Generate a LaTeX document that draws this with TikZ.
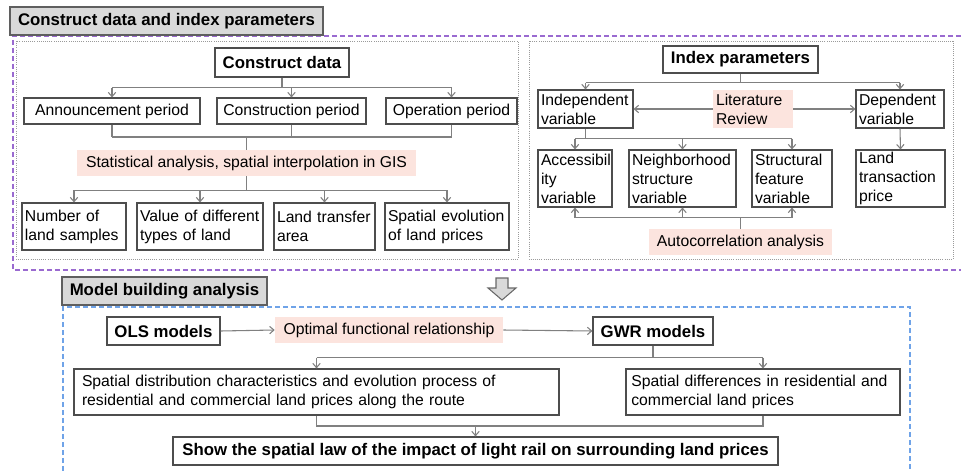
\documentclass[tikz,border=0pt]{standalone}
\usepackage{fontspec}
\setmainfont{Liberation Sans}
\usetikzlibrary{arrows.meta}
\definecolor{boxline}{HTML}{4D4D4D}
\definecolor{linkline}{HTML}{808080}
\definecolor{pinkfill}{HTML}{FCE4DE}
\definecolor{tabfill}{HTML}{D9D9D9}
\definecolor{purpledash}{HTML}{9A6AD0}
\definecolor{bluedash}{HTML}{6FA3E8}
\definecolor{framegray}{HTML}{9A9A9A}
\tikzset{
  txt/.style={font=\fontsize{11.8}{14.2}\selectfont},
  boldtxt/.style={font=\fontsize{12.6}{14.5}\selectfont\bfseries},
  box/.style={draw=boxline, line width=0.8pt, fill=white, txt, inner sep=0pt},
  sz/.style 2 args={minimum width=#1*0.75pt, minimum height=#2*0.75pt},
  lbox/.style={box, align=left, text width=#1, inner xsep=2.25pt},
  titlebox/.style={box, boldtxt},
  note/.style={fill=pinkfill, txt, inner sep=0pt},
  tab/.style={draw=boxline!90, fill=tabfill, line width=0.9pt, boldtxt, inner sep=0pt},
  link/.style={draw=linkline, line width=0.8pt},
  arr/.style={link, -{Straight Barb[length=3.2pt, width=5.5pt]}},
  frame/.style={draw=framegray, line width=0.6pt, densely dotted},
}
\begin{document}
\begin{tikzpicture}[x=0.75pt, y=-0.75pt]
\path[use as bounding box] (0,0) rectangle (961,471);

% ---------- outer dashed groups ----------
\draw[purpledash, line width=1.1pt, dash pattern=on 3.6pt off 2.4pt]
  (961,36) -- (13,36) -- (13,270) -- (961,270);
\draw[bluedash, line width=1.1pt, dash pattern=on 3.6pt off 2.4pt]
  (63,471) -- (63,307) -- (910,307) -- (910,471);

% ---------- inner frames ----------
\draw[frame] (16,41) rectangle (518,259);
\draw[frame] (529,41) rectangle (953,259);

% ---------- section tabs ----------
\node[tab, sz={313}{28}] (tabA) at (166.5,21) {Construct data and index parameters};
\node[tab, sz={205}{28}] (tabB) at (164.5,291) {Model building analysis};

% ---------- construct data ----------
\node[titlebox, sz={134}{29}] (cdata) at (282,62.5) {Construct data};
\node[box, sz={176}{26}] (ann)  at (112,111)   {Announcement period};
\node[box, sz={149}{26}] (cons) at (291.5,111) {Construction period};
\node[box, sz={131}{26}] (oper) at (451.5,111) {Operation period};
\node[note, sz={339}{26}] (stat) at (246.5,163) {Statistical analysis, spatial interpolation in GIS};
\node[lbox=73.5pt,  sz={104}{47}] (n1) at (74,226.5)  {Number of\\land samples};
\node[lbox=90pt,    sz={126}{47}] (n2) at (200,226.5) {Value of different\\types of land};
\node[lbox=71.25pt, sz={101}{47}] (n3) at (324.5,226.5) {Land transfer\\area};
\node[lbox=88.5pt,  sz={124}{47}] (n4) at (447,226.5) {Spatial evolution\\of land prices};

\draw[link] (cdata.south) -- ++(0,10) coordinate (j1);
\draw[link] (j1 -| ann.north) -- (j1 -| oper.north);
\foreach \t in {ann, cons, oper} \draw[arr] (j1 -| \t.north) -- (\t.north);

\coordinate (j2) at (0,137);
\foreach \t in {ann, cons, oper} \draw[link] (\t.south) -- (j2 -| \t.south);
\draw[link] (j2 -| ann.south) -- (j2 -| oper.south);
\draw[link] (j2 -| stat.north) -- (stat.north);

\draw[link] (stat.south) -- ++(0,14) coordinate (j3);
\draw[link] (j3 -| n1.north) -- (j3 -| n4.north);
\foreach \t in {n1, n2, n3, n4} \draw[arr] (j3 -| \t.north) -- (\t.north);

% ---------- index parameters ----------
\node[titlebox, sz={155}{27}] (idx) at (740.5,59.5) {Index parameters};
\node[lbox=66.75pt, sz={95}{38}] (indep) at (585.5,109) {Independent\\variable};
\node[note, align=left, text width=55.5pt, inner xsep=2.25pt, sz={80}{38}] (lit) at (753,109) {Literature\\Review};
\node[lbox=61.5pt, sz={88}{38}] (dep) at (900,109) {Dependent\\variable};
\node[lbox=51pt,    sz={74}{57}]  (acc) at (575,178.5)   {Accessibil\\ity\\variable};
\node[lbox=75.75pt, sz={107}{57}] (nei) at (682.5,178.5) {Neighborhood\\structure\\variable};
\node[lbox=55.5pt,  sz={80}{57}]  (str) at (792,178.5)   {Structural\\feature\\variable};
\node[lbox=62.25pt, sz={89}{57}]  (ltp) at (900.5,178.5) {Land\\transaction\\price};
\node[note, sz={183}{26}] (auto) at (740.5,242) {Autocorrelation analysis};

\draw[link] (idx.south) -- ++(0,9) coordinate (k1);
\draw[link] (k1 -| indep.north) -- (k1 -| dep.north);
\foreach \t in {indep, dep} \draw[arr] (k1 -| \t.north) -- (\t.north);
\draw[arr] (lit.west) -- (indep.east);
\draw[arr] (lit.east) -- (dep.west);

\draw[link] (indep.south) -- ++(0,10) coordinate (k2);
\draw[link] (k2 -| acc.north) -- (k2 -| str.north);
\foreach \t in {acc, nei, str} \draw[arr] (k2 -| \t.north) -- (\t.north);
\draw[arr] (dep.south) -- (ltp.north);

\draw[link] (auto.north) -- ++(0,-11) coordinate (k3);
\draw[link] (k3 -| acc.south) -- (k3 -| str.south);
\foreach \t in {acc, nei, str} \draw[arr] (k3 -| \t.south) -- (\t.south);

% ---------- block arrow between the two stages ----------
\filldraw[fill=tabfill, draw=boxline!85, line width=0.8pt, line join=miter]
  (496,278) -- (508,278) -- (508,288) -- (516,288) -- (502,300)
  -- (488,288) -- (496,288) -- cycle;

% ---------- model building ----------
\node[titlebox, sz={113}{28}] (ols) at (163.5,331) {OLS models};
\node[note, sz={228}{26}] (opt) at (389,330) {Optimal functional relationship};
\node[titlebox, sz={120}{28}] (gwr) at (653,331) {GWR models};
\node[box, align=left, text width=351.75pt, inner xsep=6pt, sz={485}{46}] (sd1) at (316.5,392)
  {Spatial distribution characteristics and evolution process of\\residential and commercial land prices along the route};
\node[box, align=left, text width=197.5pt, inner xsep=4pt, sz={274}{46}] (sd2) at (763,392)
  {Spatial differences in residential and\\commercial land prices};
\node[titlebox, sz={605}{28}] (fin) at (475.5,451)
  {Show the spatial law of the impact of light rail on surrounding land prices};

\draw[arr] (ols.east) -- (opt.west);
\draw[arr] (opt.east) -- (gwr.west);
\draw[link] (gwr.south) -- ++(0,12) coordinate (m1);
\draw[link] (m1 -| sd1.north) -- (m1 -| sd2.north);
\foreach \t in {sd1, sd2} \draw[arr] (m1 -| \t.north) -- (\t.north);
\coordinate (m2) at (0,426);
\draw[link] (sd1.south) -- (m2 -| sd1.south) -- (m2 -| sd2.south) -- (sd2.south);
\draw[arr] (m2 -| fin.north) -- (fin.north);
\end{tikzpicture}
\end{document}
